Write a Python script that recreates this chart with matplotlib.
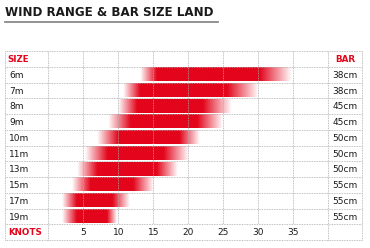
import numpy as np
import matplotlib
matplotlib.use("Agg")
import matplotlib.pyplot as plt

sizes = ["6m", "7m", "8m", "9m", "10m", "11m", "13m", "15m", "17m", "19m"]
bars = ["38cm", "38cm", "45cm", "45cm", "50cm", "50cm", "50cm", "55cm", "55cm", "55cm"]
fade_start = [13.1, 10.7, 10.0, 8.5, 7.0, 5.2, 4.1, 3.4, 2.0, 2.0]
full_start = [15.5, 13.1, 12.7, 11.7, 10.0, 8.4, 7.0, 6.0, 4.1, 4.1]
full_end = [30.2, 25.5, 22.1, 21.2, 18.8, 16.4, 15.5, 12.1, 9.2, 8.4]
fade_end = [34.8, 30.0, 26.2, 24.8, 21.7, 20.0, 18.5, 15.0, 11.7, 9.8]
knot_ticks = [5, 10, 15, 20, 25, 30, 35]
grid_knots = [0, 5, 10, 15, 20, 25, 30, 35, 40]

RED = "#e3051b"
GRID = "#ababab"
W, H = 370, 248

fig = plt.figure(figsize=(W / 100, H / 100), dpi=100)
fig.patch.set_facecolor("white")

# title
fig.text(5 / W, 1 - 13 / H, "WIND RANGE & BAR SIZE LAND", fontsize=8.6,
         fontweight="bold", color="#1a1a1a", va="center", ha="left")
fig.add_artist(plt.Line2D([5 / W, 218 / W], [1 - 22 / H, 1 - 22 / H],
                          color="#8a8a8a", lw=1.3))

x0, x1 = -6.2, 44.8
ax = fig.add_axes([5 / W, 8 / H, 357 / W, 189 / H])
ax.set_xlim(x0, x1)
ax.set_ylim(12, 0)
ax.axis("off")

nrows = 12
# bars
r, g, b = matplotlib.colors.to_rgb(RED)
for i in range(len(sizes)):
    row = i + 1
    xs = np.linspace(fade_start[i], fade_end[i], 300)
    alpha = np.interp(xs, [fade_start[i], full_start[i], full_end[i], fade_end[i]],
                      [0, 1, 1, 0])
    img = np.zeros((1, len(xs), 4))
    img[..., 0] = r
    img[..., 1] = g
    img[..., 2] = b
    img[..., 3] = alpha
    ax.imshow(img, extent=[fade_start[i], fade_end[i], row + 0.92, row + 0.08],
              aspect="auto", interpolation="bilinear", zorder=1)
ax.set_xlim(x0, x1)
ax.set_ylim(12, 0)

ls = (0, (1.0, 1.0))
# horizontal lines
for yy in range(0, nrows + 1):
    ax.plot([x0, x1], [yy, yy], color=GRID, lw=0.6, ls=ls, zorder=2, clip_on=False)
# vertical lines
for k in grid_knots:
    if k in (0, 40):
        ax.plot([k, k], [0, 12], color=GRID, lw=0.6, ls=ls, zorder=2, clip_on=False)
    else:
        ax.plot([k, k], [0, 11], color=GRID, lw=0.6, ls=ls, zorder=2, clip_on=False)
for xx in (x0, x1):
    ax.plot([xx, xx], [0, 12], color=GRID, lw=0.6, ls=ls, zorder=2, clip_on=False)

# headers
ax.text(-5.8, 0.55, "SIZE", color=RED, fontsize=6.3, fontweight="bold",
        va="center", ha="left")
ax.text(43.9, 0.55, "BAR", color=RED, fontsize=6.3, fontweight="bold",
        va="center", ha="right")
ax.text(-5.8, 11.5, "KNOTS", color=RED, fontsize=6.3, fontweight="bold",
        va="center", ha="left")

for i, (s, bname) in enumerate(zip(sizes, bars)):
    row = i + 1
    ax.text(-5.6, row + 0.55, s, color="#1a1a1a", fontsize=6.5,
            va="center", ha="left")
    ax.text(42.4, row + 0.55, bname, color="#1a1a1a", fontsize=6.5,
            va="center", ha="center")

for k in knot_ticks:
    ax.text(k, 11.55, str(k), color="#1a1a1a", fontsize=6.5,
            va="center", ha="center")

fig.savefig("out.png", dpi=100, facecolor="white")
